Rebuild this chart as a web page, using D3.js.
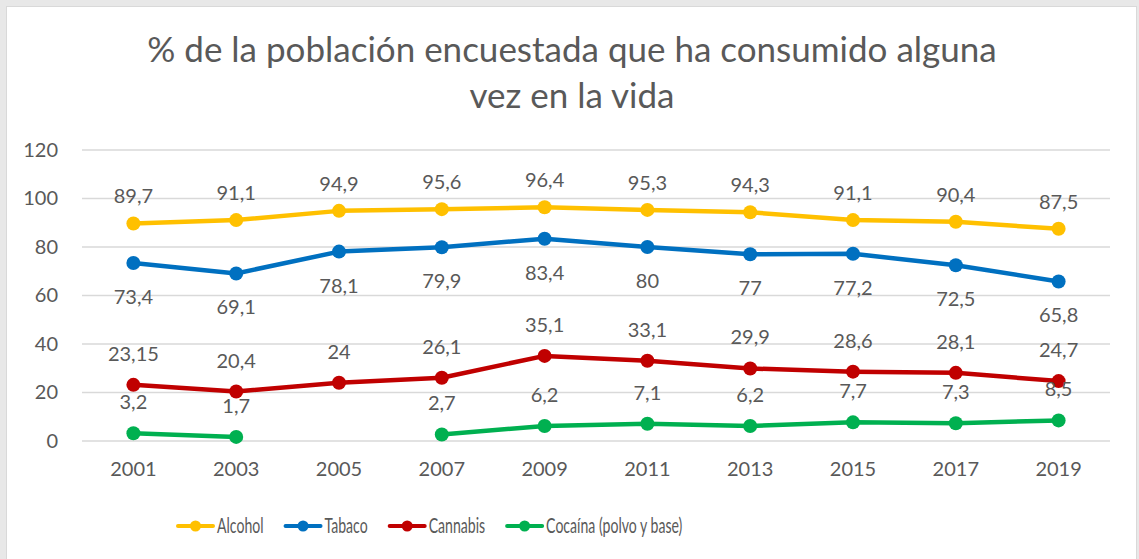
<!DOCTYPE html>
<html>
<head>
<meta charset="utf-8">
<script src="https://cdn.jsdelivr.net/npm/d3@7"></script>
<style>
  body { margin: 0; background: #e8e8e8; }
  text { font-family: Lato, "Open Sans", sans-serif; fill: #595959; }
</style>
</head>
<body>
<div id="chart"></div>
<script>
// Data
const years = ["2001", "2003", "2005", "2007", "2009", "2011", "2013", "2015", "2017", "2019"];
const alcohol = [89.7, 91.1, 94.9, 95.6, 96.4, 95.3, 94.3, 91.1, 90.4, 87.5];
const tabaco = [73.4, 69.1, 78.1, 79.9, 83.4, 80, 77, 77.2, 72.5, 65.8];
const cannabis = [23.15, 20.4, 24, 26.1, 35.1, 33.1, 29.9, 28.6, 28.1, 24.7];
const cocaina = [3.2, 1.7, null, 2.7, 6.2, 7.1, 6.2, 7.7, 7.3, 8.5];
const yTicks = [0, 20, 40, 60, 80, 100, 120];

const series = [
  { name: "Alcohol", values: alcohol, color: "#FFC000", labelDy: -27 },
  { name: "Tabaco", values: tabaco, color: "#0070C0", labelDy: 34 },
  { name: "Cannabis", values: cannabis, color: "#C00000", labelDy: -31 },
  { name: "Cocaína (polvo y base)", values: cocaina, color: "#00B050", labelDy: -31 }
];

const W = 1139, H = 559;
const plot = { left: 82, right: 1110, top: 150, bottom: 441 };

const svg = d3.select("#chart")
  .append("svg")
    .attr("width", W)
    .attr("height", H);

// chart area with light border
svg.append("rect")
    .attr("x", 6.5)
    .attr("y", 6.5)
    .attr("width", 1130)
    .attr("height", H)
    .attr("fill", "#fff")
    .attr("stroke", "#d9d9d9");

// Title
const title = svg.append("text")
    .attr("text-anchor", "middle")
    .style("font-size", "35px");
title.append("tspan").attr("x", 572).attr("y", 62)
    .text("% de la población encuestada que ha consumido alguna");
title.append("tspan").attr("x", 572).attr("y", 108)
    .text("vez en la vida");

// Scales
const x = d3.scaleBand().domain(years).range([plot.left, plot.right]);
const y = d3.scaleLinear().domain([0, 120]).range([plot.bottom, plot.top]);
const cx = d => x(d) + x.bandwidth() / 2;

// Gridlines
svg.append("g")
  .selectAll("line")
  .data(yTicks)
  .join("line")
    .attr("x1", plot.left)
    .attr("x2", plot.right)
    .attr("y1", d => y(d))
    .attr("y2", d => y(d))
    .attr("stroke", "#d9d9d9")
    .attr("stroke-width", 1.5);

// Y axis labels
const yAxis = svg.append("g")
    .attr("transform", `translate(${plot.left - 24},0)`)
    .call(d3.axisLeft(y).tickValues(yTicks).tickSize(0).tickPadding(0));
yAxis.select(".domain").remove();
yAxis.selectAll("text")
    .attr("fill", "#595959")
    .style("font-size", "20px")
    .style("font-family", "Lato, 'Open Sans', sans-serif");

// X axis labels
const xAxis = svg.append("g")
    .attr("transform", `translate(0,${plot.bottom + 21})`)
    .call(d3.axisBottom(x).tickSize(0).tickPadding(0));
xAxis.select(".domain").remove();
xAxis.selectAll("text")
    .attr("fill", "#595959")
    .style("font-size", "20px")
    .style("font-family", "Lato, 'Open Sans', sans-serif");

// Lines and markers
const line = d3.line()
    .defined(d => d.v !== null)
    .x(d => cx(d.year))
    .y(d => y(d.v));

series.forEach(s => {
  const pts = years.map((yr, i) => ({ year: yr, v: s.values[i] }));
  const g = svg.append("g");
  g.append("path")
      .datum(pts)
      .attr("fill", "none")
      .attr("stroke", s.color)
      .attr("stroke-width", 4.5)
      .attr("stroke-linejoin", "round")
      .attr("d", line);
  g.selectAll("circle")
    .data(pts.filter(d => d.v !== null))
    .join("circle")
      .attr("cx", d => cx(d.year))
      .attr("cy", d => y(d.v))
      .attr("r", 7)
      .attr("fill", s.color);
});

// Data labels on top of everything
const fmt = v => String(v).replace(".", ",");
series.forEach(s => {
  const pts = years.map((yr, i) => ({ year: yr, v: s.values[i] }));
  svg.append("g")
    .selectAll("text")
    .data(pts.filter(d => d.v !== null))
    .join("text")
      .attr("x", d => cx(d.year))
      .attr("y", d => y(d.v) + s.labelDy)
      .attr("dy", "0.35em")
      .attr("text-anchor", "middle")
      .style("font-size", "20px")
      .text(d => fmt(d.v));
});

// Legend (text squeezed horizontally like the original)
const legend = svg.append("g").attr("transform", "translate(178,526)");
let lx = 0;
series.forEach(s => {
  const item = legend.append("g").attr("transform", `translate(${lx},0)`);
  item.append("line")
      .attr("x1", 0).attr("x2", 35)
      .attr("stroke", s.color)
      .attr("stroke-width", 4)
      .attr("stroke-linecap", "round");
  item.append("circle")
      .attr("cx", 17.5)
      .attr("r", 5.5)
      .attr("fill", s.color);
  const t = item.append("text")
      .attr("x", 39)
      .attr("dy", "0.35em")
      .style("font-size", "21px")
      .text(s.name);
  const w = t.node().getComputedTextLength() * 0.67;
  t.attr("textLength", w).attr("lengthAdjust", "spacingAndGlyphs");
  lx += 39 + w + 22;
});
</script>
</body>
</html>
